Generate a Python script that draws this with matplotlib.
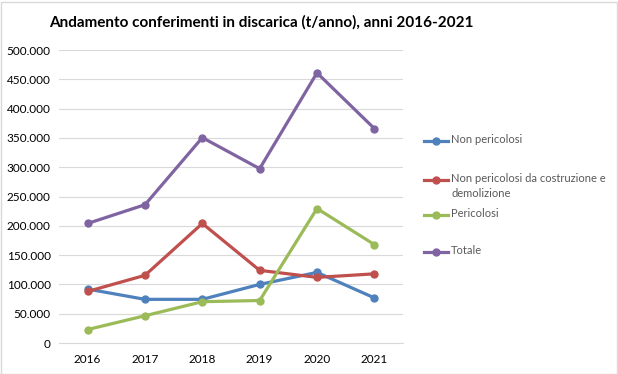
import numpy as np
import matplotlib
matplotlib.use("Agg")
import matplotlib.pyplot as plt
from matplotlib.lines import Line2D
from matplotlib.ticker import FuncFormatter

plt.rcParams['font.family'] = ['Lato', 'DejaVu Sans']

anni = ["2016", "2017", "2018", "2019", "2020", "2021"]
non_pericolosi = [92000, 74500, 74500, 100000, 120500, 77000]
costr_demolizione = [88000, 115500, 204000, 124000, 112000, 118000]
pericolosi = [23000, 46500, 70500, 72500, 229500, 168000]
totale = [204000, 236000, 350500, 297500, 461000, 366000]

serie = [
    ("Non pericolosi", non_pericolosi, "#4F81BD"),
    ("Non pericolosi da costruzione e\ndemolizione", costr_demolizione, "#C0504D"),
    ("Pericolosi", pericolosi, "#9BBB59"),
    ("Totale", totale, "#8064A2"),
]

fig = plt.figure(figsize=(6.18, 3.74), dpi=100)
ax = fig.add_axes([59/618, 1-343/374, 344/618, 293/374])

x = np.arange(len(anni))
for nome, vals, col in serie:
    ax.plot(x, vals, color=col, lw=2.3, marker="o", ms=5, solid_capstyle="round")

ax.set_xlim(-0.5, len(anni) - 0.5)
ax.set_ylim(0, 500000)
ax.set_yticks(np.arange(0, 500001, 50000))
ax.yaxis.set_major_formatter(FuncFormatter(lambda v, p: "0" if v == 0 else f"{int(v):,}".replace(",", ".")))
ax.set_xticks(x)
ax.set_xticklabels(anni)
ax.grid(axis="y", color="#d9d9d9", lw=0.8)
ax.set_axisbelow(True)
for s in ["top", "right", "left"]:
    ax.spines[s].set_visible(False)
ax.spines["bottom"].set_color("#d9d9d9")
ax.tick_params(length=0, labelsize=8.5, colors="#000000")
ax.tick_params(axis="y", pad=6)
ax.tick_params(axis="x", pad=8)

fig.text(261/618, 1-22/374, "Andamento conferimenti in discarica (t/anno), anni 2016-2021",
         ha="center", va="center", fontsize=11, fontweight="bold")

# legenda
leg_y = [141, 180, 215, 252]
for (nome, vals, col), yy in zip(serie, leg_y):
    yf = 1 - yy/374
    fig.add_artist(Line2D([424/618, 436/618, 448/618], [yf, yf, yf], color=col, lw=2.3,
                          marker="o", ms=5, markevery=[1], transform=fig.transFigure))
    fig.text(451/618, yf + 7/374, nome, ha="left", va="top", fontsize=8,
             color="#595959", linespacing=1.45)

fig.add_artist(plt.Rectangle((0.5/618, 0.5/374), 616/618, 372/374, fill=False,
                             edgecolor="#d9d9d9", lw=1, transform=fig.transFigure))

fig.savefig("out.png", dpi=100)
